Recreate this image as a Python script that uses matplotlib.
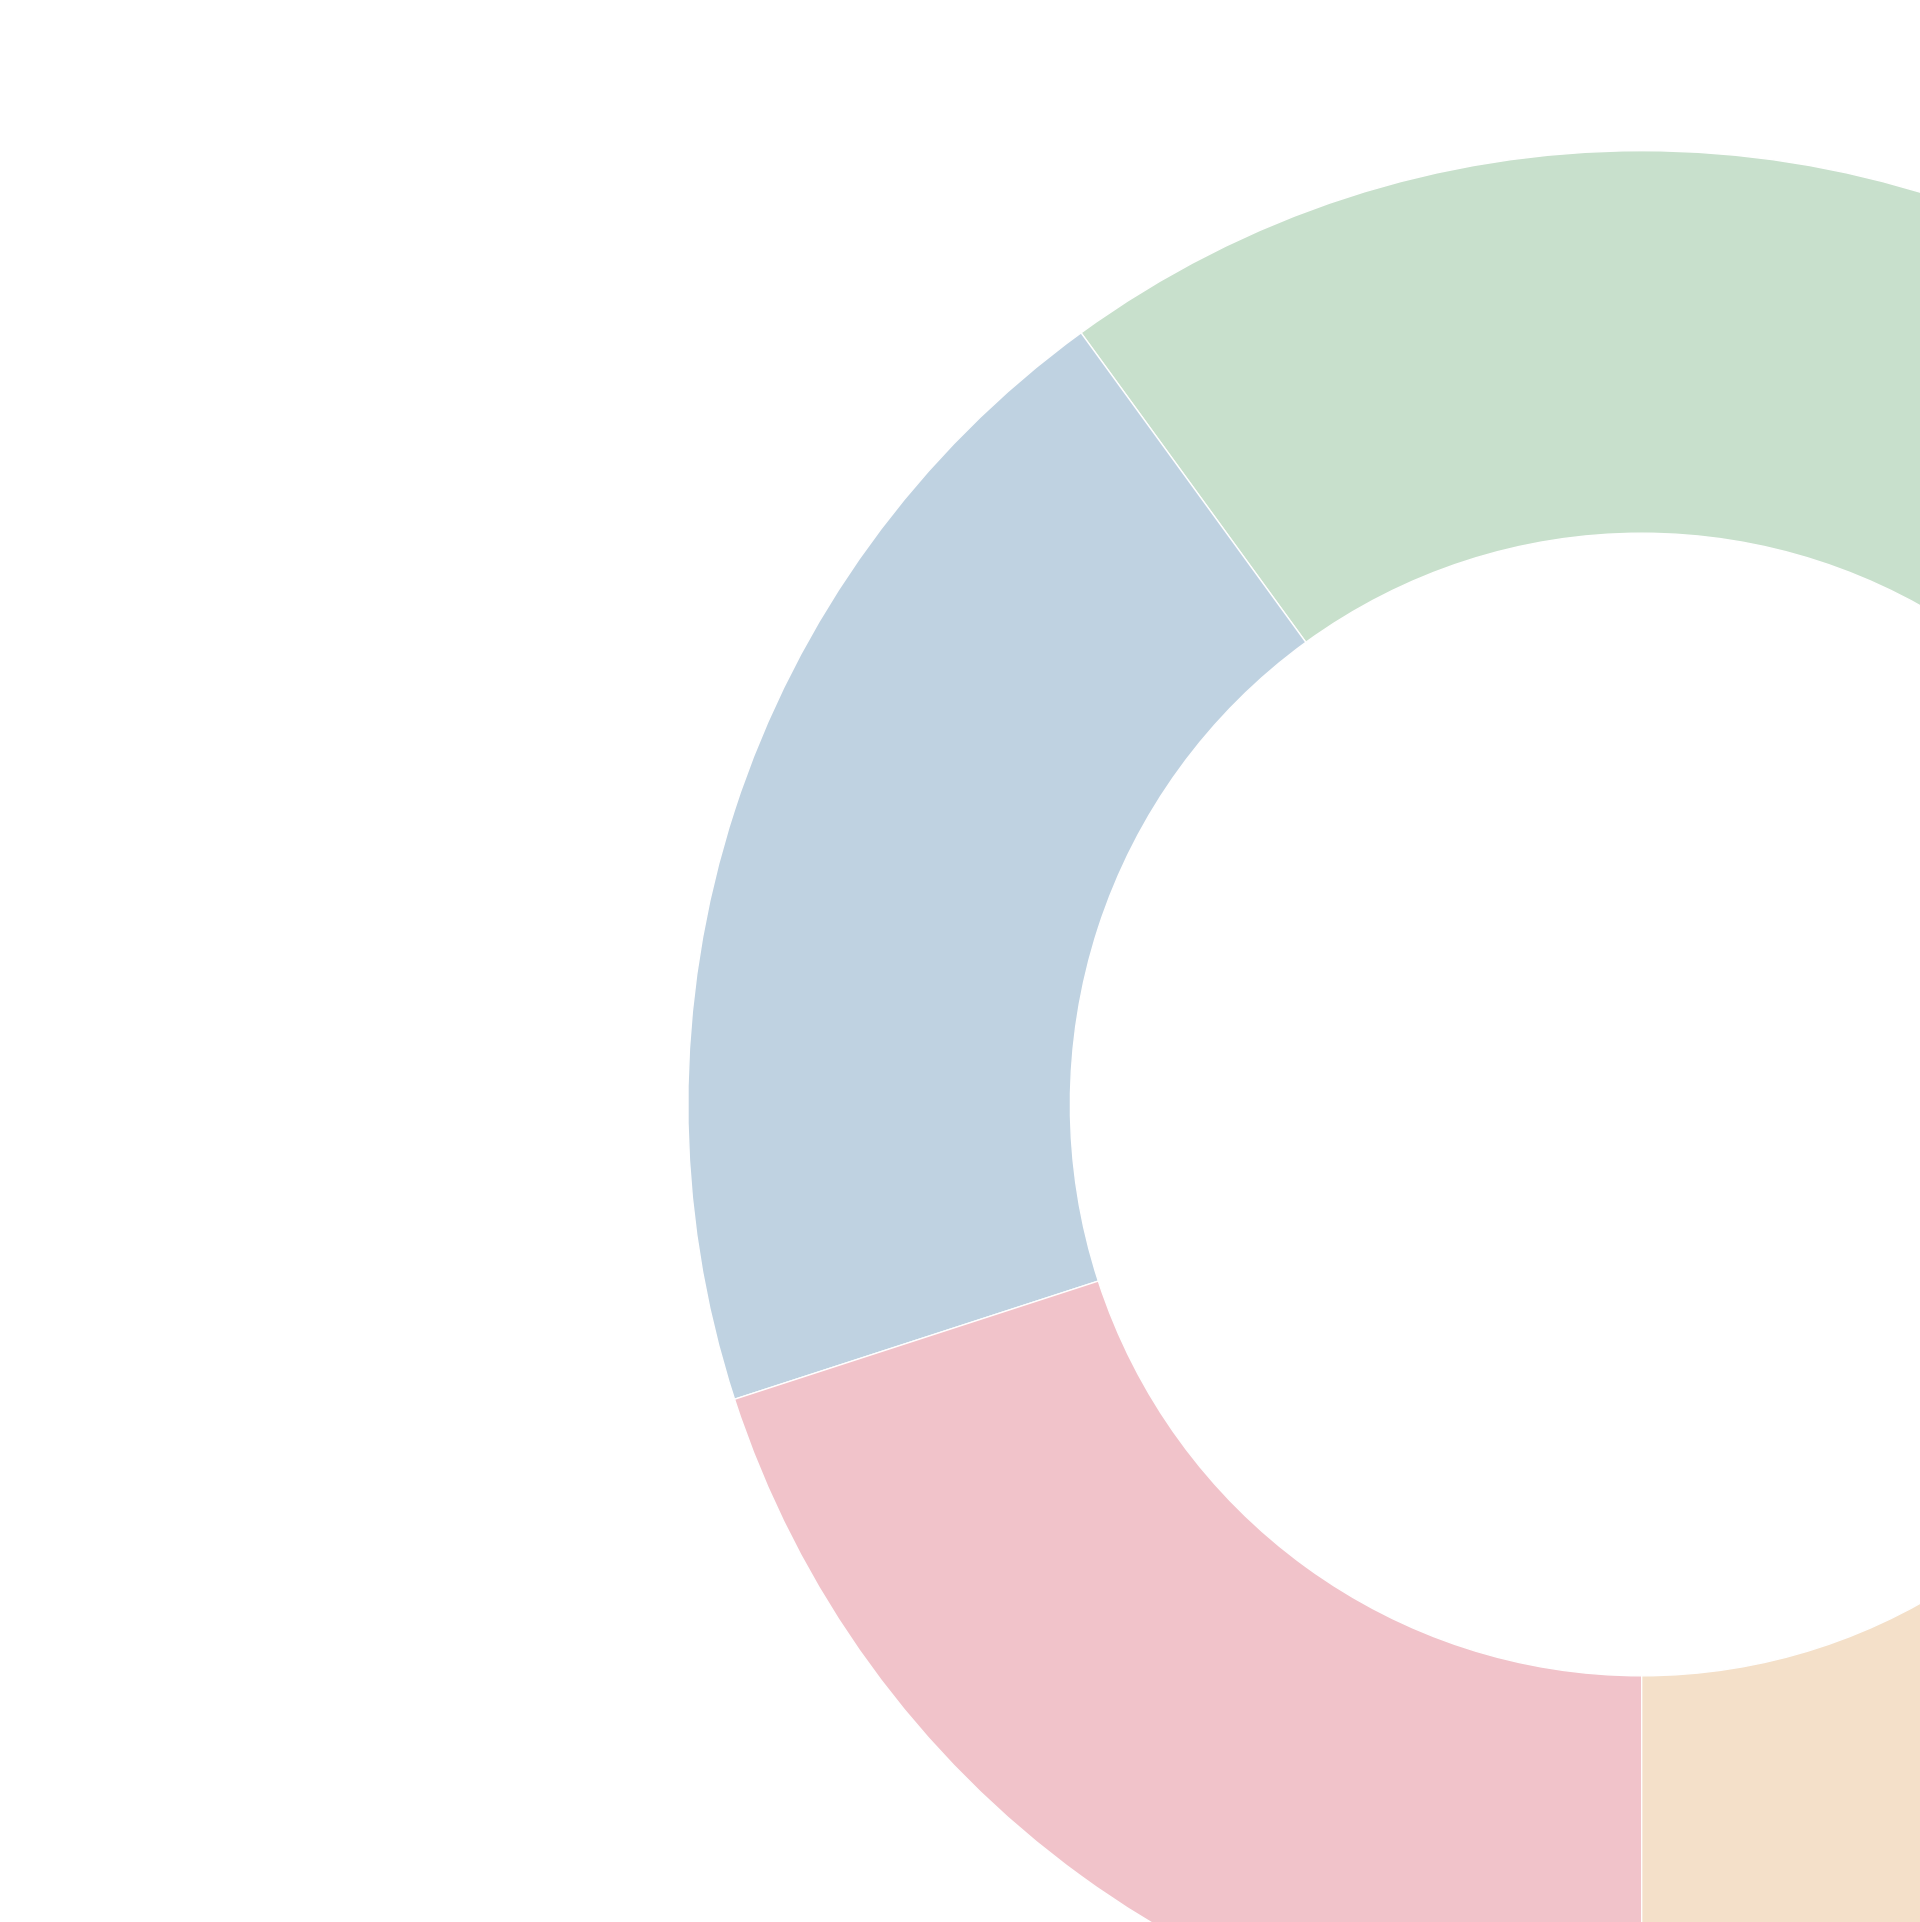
import matplotlib
matplotlib.use("Agg")
import matplotlib.pyplot as plt

# slice shares (only green, blue, pink and orange show in the crop)
labels = ["Green", "Blue", "Pink", "Orange", "Purple"]
values = [20, 20, 20, 20, 20]
colors = ["#c8e0cc", "#bfd2e1", "#f1c3ca", "#f4e0c9", "#dcd0e6"]

fig = plt.figure(figsize=(19.2, 19.22), dpi=100)
ax = fig.add_axes([0, 0, 1, 1])

ax.pie(values, colors=colors, startangle=54, counterclock=True,
       wedgeprops=dict(width=0.401, edgecolor="white", linewidth=1.0))

# the picture is a crop of the donut: centre sits right of middle
ax.set_xlim(-1.7212, 0.2918)
ax.set_ylim(-0.8571, 1.1580)
ax.set_aspect("auto")
ax.axis("off")

fig.savefig("out.png", dpi=100, facecolor="white")
